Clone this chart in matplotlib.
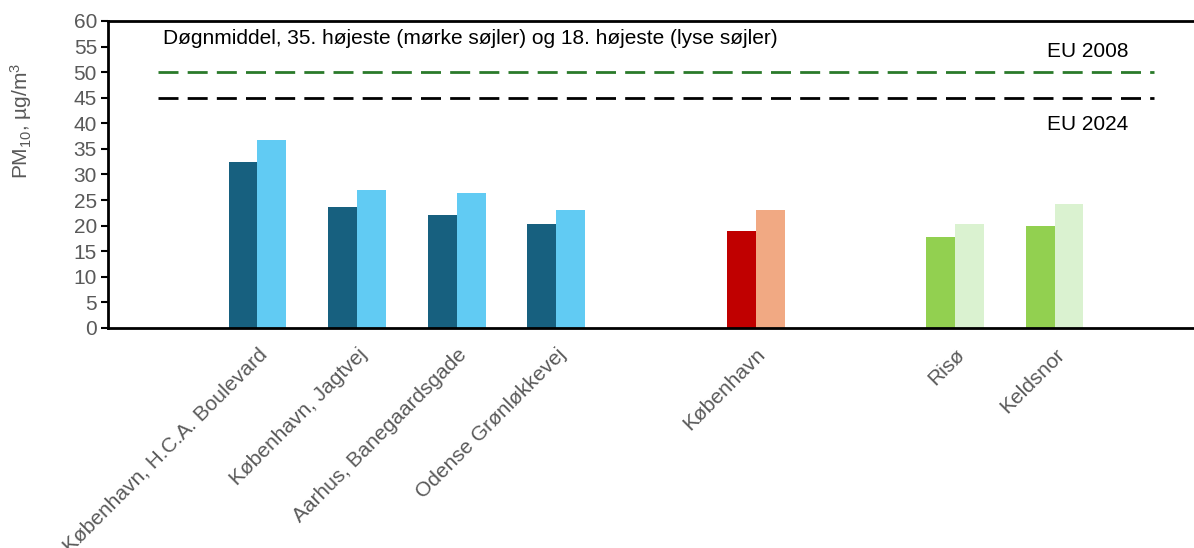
import numpy as np
from matplotlib import pyplot as plt

plt.rcParams['font.family'] = ['Liberation Sans', 'DejaVu Sans']
plt.rcParams['mathtext.default'] = 'regular'

# categories (empty slots are spacers between station types)
stations = ['', 'København, H.C.A. Boulevard', 'København, Jagtvej', 'Aarhus, Banegaardsgade',
            'Odense Grønløkkevej', '', 'København', '', 'Risø', 'Keldsnor', '']
# 35. hoejeste (dark) and 18. hoejeste (light)
high35 = [np.nan, 32.4, 23.6, 22.0, 20.4, np.nan, 18.9, np.nan, 17.8, 19.9, np.nan]
high18 = [np.nan, 36.7, 27.0, 26.4, 23.0, np.nan, 23.0, np.nan, 20.3, 24.2, np.nan]
stationType = ['', 'street', 'street', 'street', 'street', '', 'urban', '', 'rural', 'rural', '']

limits = [50, 45]
limitLabels = ['EU 2008', 'EU 2024']
yticks = list(range(0, 65, 5))

darkColors = {'street': '#17607F', 'urban': '#C00000', 'rural': '#92D050'}
lightColors = {'street': '#61CBF3', 'urban': '#F1A983', 'rural': '#DAF2D0'}

fig = plt.figure(figsize=(11.94, 5.48), dpi=100)
ax = fig.add_axes([0.0905, 0.4015, 0.9095, 0.5602])

x = np.arange(len(stations))
w = 0.29
for i in x:
    if stationType[i] == '':
        continue
    ax.bar(x[i] - w/2, high35[i], w, color=darkColors[stationType[i]], zorder=2)
    ax.bar(x[i] + w/2, high18[i], w, color=lightColors[stationType[i]], zorder=2)

#limit lines
ax.plot([0, 10], [limits[0]]*2, color='#2A7A2A', lw=2, dashes=(7.2, 3.3), zorder=3)
ax.plot([0, 10], [limits[1]]*2, color='black', lw=2, dashes=(7.2, 3.3), zorder=3)
ax.text(9.33, 54.1, limitLabels[0], fontsize=15, ha='center', va='center')
ax.text(9.33, 39.8, limitLabels[1], fontsize=15, ha='center', va='center')

ax.text(0.05, 56.6, 'Døgnmiddel, 35. højeste (mørke søjler) og 18. højeste (lyse søjler)',
        fontsize=15, ha='left', va='center')

ax.set_xlim(-0.5, 10.4)
ax.set_ylim(0, 60)
ax.set_yticks(yticks)
ax.tick_params(axis='y', labelsize=15, labelcolor='#595959', length=5, width=1.5, direction='out', pad=3)
ax.set_xticks(x)
ax.set_xticklabels(stations, rotation=45, ha='right', va='top', rotation_mode='anchor',
                   fontsize=15, color='#595959')
ax.tick_params(axis='x', length=0, pad=12)

for s in ['top', 'left', 'bottom']:
    ax.spines[s].set_linewidth(2)
    ax.spines[s].set_color('black')
ax.spines['right'].set_visible(False)

ax.set_ylabel('PM$_{10}$, µg/m$^{3}$', fontsize=15, color='#595959')
ax.yaxis.set_label_coords(-0.068, 0.674)

plt.savefig('out.png', dpi=100)
